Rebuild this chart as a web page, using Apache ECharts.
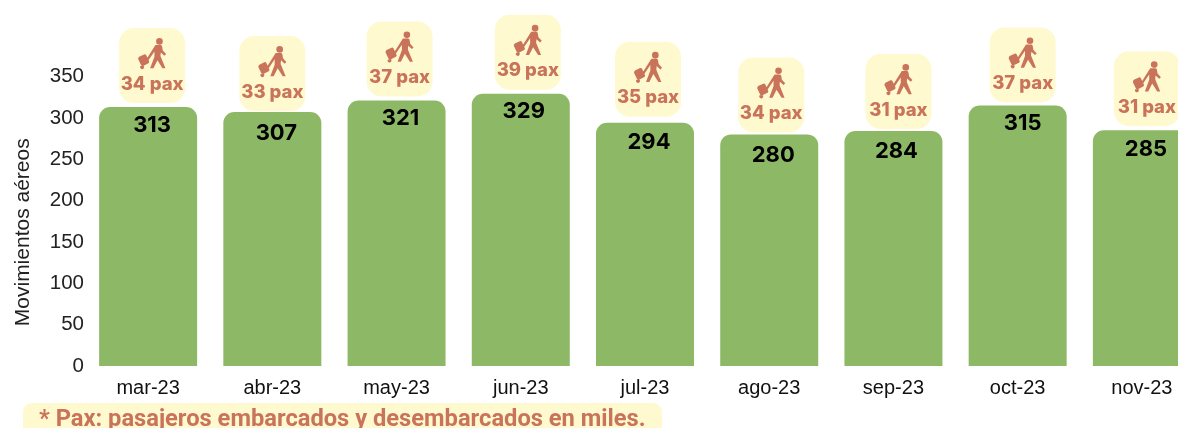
<!DOCTYPE html>
<html>
<head>
<meta charset="UTF-8">
<title>Movimientos aéreos</title>
<script src="https://cdn.jsdelivr.net/npm/echarts@6/dist/echarts.min.js"></script>
<style>html,body{margin:0;padding:0;background:#fff}</style>
</head>
<body>
<div id="main" style="width:1178px;height:428px;"></div>
<script>
var months = ['mar-23', 'abr-23', 'may-23', 'jun-23', 'jul-23', 'ago-23', 'sep-23', 'oct-23', 'nov-23'];
var movimientos = [313, 307, 321, 329, 294, 280, 284, 315, 285];
var pax = [34, 33, 37, 39, 35, 34, 31, 37, 31];

var GREEN = '#8DB966', CREAM = '#FFF9CF', CLAY = '#C8735A';
// the badges were placed by hand in the original, so each one sits a bit off its bar
var nudgeX = [4, 0, 3, 7, 3, 2, 5, 5, 5];
var nudgeY = [4, 1, 4, 4, 6, 2, 2, 3, 4];
var labelX = [4, 4, 4, 3, 4, 4, 3, 5, 4];
var labelY = [18, 21, 18, 18, 20, 21, 20, 18, 19];

// walking person pulling a suitcase, in an 84x94 box
var walker = 'M64 2a10 10 0 1 1 0 20a10 10 0 1 1 0-20z' +
  'M52 23L67 23Q71 23 72 27L74 39L84 50L79 55L68 45L67 56L82 93L73 93L58 69L46 93L36 93L49 58L49 42L30 70L25 66z' +
  'M3 58L18 51Q22 49 24 53L33 72Q34 76 31 78L15 86Q11 87 9 84L0 65Q0 60 3 58z' +
  'M7 86a6 6 0 1 0 10 0z';

function drawBadge(params, api) {
  var i = params.dataIndex;
  var p = api.coord([api.value(0), api.value(1)]);
  var w = 66, h = 75;
  var cx = p[0] + nudgeX[i];
  var bottom = p[1] - nudgeY[i];
  var top = bottom - h;
  return {
    type: 'group',
    children: [
      { type: 'rect', shape: { x: cx - w / 2, y: top, width: w, height: h, r: 15 }, style: { fill: CREAM } },
      { type: 'path', shape: { pathData: walker, layout: 'cover', x: cx - 14, y: top + 10, width: 28, height: 31 }, style: { fill: CLAY } },
      { type: 'text', style: { x: cx, y: top + 56, text: api.value(2) + ' pax', fill: CLAY, align: 'center', verticalAlign: 'middle', font: '800 18.5px Inter' } },
      { type: 'text', style: { x: p[0] + labelX[i], y: p[1] + labelY[i], text: String(api.value(1)), fill: '#000', align: 'center', verticalAlign: 'middle', font: '700 22px Inter' } }
    ]
  };
}

var myChart = echarts.init(document.getElementById('main'));
var option = {
  animation: false,
  grid: { left: 86, top: 76.5, width: 1118, height: 289.5, outerBoundsMode: 'none' },
  xAxis: {
    type: 'category',
    data: months,
    axisLine: { show: false },
    axisTick: { show: false },
    axisLabel: { color: '#111', fontFamily: 'Liberation Sans', fontSize: 20, margin: 12 }
  },
  yAxis: {
    type: 'value',
    min: 0,
    max: 350,
    interval: 50,
    name: 'Movimientos aéreos',
    nameLocation: 'middle',
    nameGap: 52,
    nameTextStyle: { color: '#222', fontFamily: 'Liberation Sans', fontSize: 21, padding: [0, 22, 0, 0] },
    axisLine: { show: false },
    axisTick: { show: false },
    splitLine: { show: false },
    axisLabel: { color: '#222', fontFamily: 'Liberation Sans', fontSize: 20.5, margin: 2, padding: [2, 0, 0, 0] }
  },
  graphic: [
    { type: 'rect', left: 23, top: 403, shape: { width: 639, height: 40, r: 9 }, style: { fill: CREAM } },
    { type: 'text', left: 39, top: 408, style: { text: '* Pax: pasajeros embarcados y desembarcados en miles.', fill: CLAY, font: '700 23.7px Roboto' } }
  ],
  series: [
    {
      type: 'bar',
      data: movimientos,
      barWidth: 98,
      itemStyle: { color: GREEN, borderRadius: [11, 11, 0, 0] }
    },
    {
      type: 'custom',
      renderItem: drawBadge,
      clip: false,
      z: 5,
      data: months.map(function (m, i) { return [i, movimientos[i], pax[i]]; })
    }
  ]
};
myChart.setOption(option);
</script>
</body>
</html>
